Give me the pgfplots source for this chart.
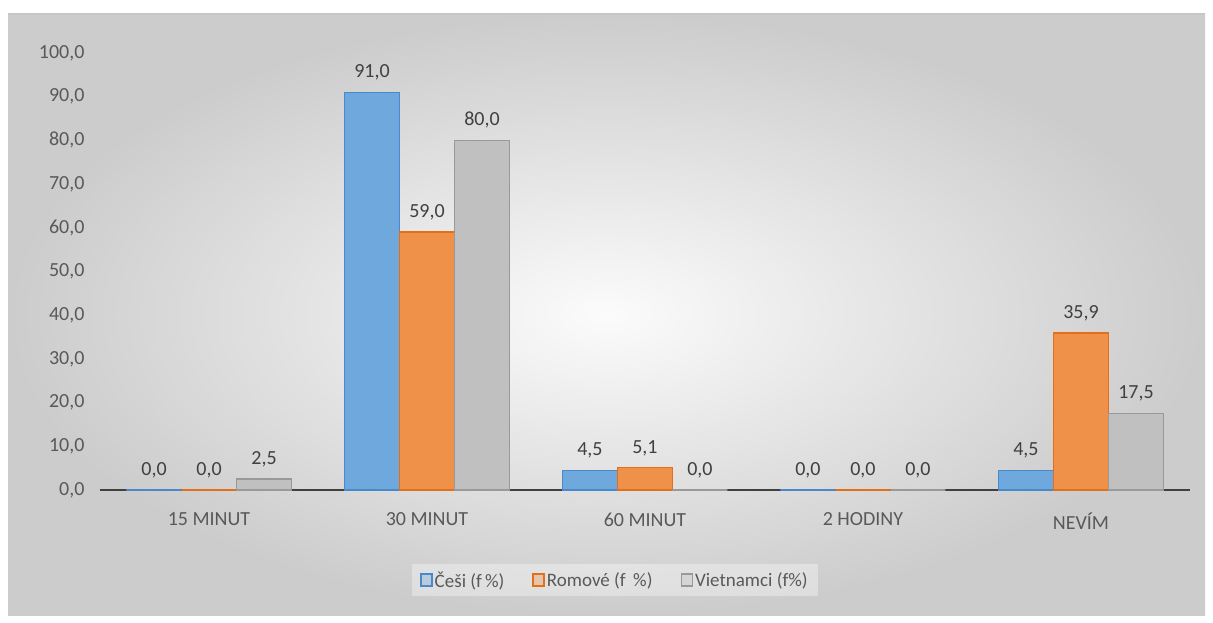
\documentclass[border=0pt]{standalone}
\usepackage{pgfplots}
\pgfplotsset{compat=1.18}
\usepackage{fontspec}
\setmainfont{Carlito}
\definecolor{txt}{HTML}{595959}
\definecolor{lbl}{HTML}{404040}
\definecolor{cblue}{HTML}{6FA8DC}
\definecolor{cblueE}{HTML}{4A88CC}
\definecolor{corange}{HTML}{F0914A}
\definecolor{corangeE}{HTML}{E26F1A}
\definecolor{cgray}{HTML}{C0C0C0}
\definecolor{cgrayE}{HTML}{999999}
\begin{document}
\begin{tikzpicture}[x=1pt,y=1pt]
\fill[white] (0,0) rectangle (1213,622);
\shade[inner color=gray!3, outer color=gray!40] (8,7) rectangle (1205,608);
\draw[gray!45, line width=1.5pt] (8,608) -- (1205,608);
\begin{axis}[
  at={(100pt,132pt)}, anchor=south west,
  scale only axis, width=1090pt, height=437pt,
  xmin=-0.5, xmax=4.5, ymin=0, ymax=100,
  ybar=0pt, bar width=55pt,
  xtick={0,1,2,3,4},
  xticklabels={15 MINUT,30 MINUT,60 MINUT,2 HODINY,NEVÍM},
  ytick={0,10,...,100},
  axis y line*=left,
  axis x line*=bottom,
  y axis line style={draw=none},
  x axis line style={draw=lbl, line width=2.5pt, -},
  tick style={draw=none},
  ticklabel style={font=\fontsize{20}{23}\selectfont, text=txt},
  xticklabel style={yshift=-15pt},
  yticklabel style={xshift=-12pt},
  /pgf/number format/.cd, fixed, fixed zerofill, precision=1, use comma, assume math mode=true,
  /pgfplots/.cd,
  nodes near coords,
  every node near coord/.append style={font=\fontsize{20}{23}\selectfont, text=lbl, yshift=8pt},
  legend columns=3,
  legend style={at={(0.4725,-0.206)}, anchor=center, draw=none, fill=white, fill opacity=0.35, text opacity=1,
    font=\fontsize{19}{22}\selectfont, text=txt, inner xsep=8pt, inner ysep=5pt,
    /tikz/every even column/.append style={column sep=26pt}},
  legend image code/.code={\draw[#1, line width=1.5pt] (0pt,-6pt) rectangle (11pt,6pt);},
  clip=false,
]
\addplot[fill=cblue, draw=cblueE, line width=1.5pt] coordinates {(0,0) (1,91) (2,4.5) (3,0) (4,4.5)};
\addplot[fill=corange, draw=corangeE, line width=1.5pt] coordinates {(0,0) (1,59) (2,5.1) (3,0) (4,35.9)};
\addplot[fill=cgray, draw=cgrayE, line width=1.5pt] coordinates {(0,2.5) (1,80) (2,0) (3,0) (4,17.5)};
\legend{Češi (f\,\%),Romové (f \,\%),Vietnamci (f\%)}
\end{axis}
\end{tikzpicture}
\end{document}
